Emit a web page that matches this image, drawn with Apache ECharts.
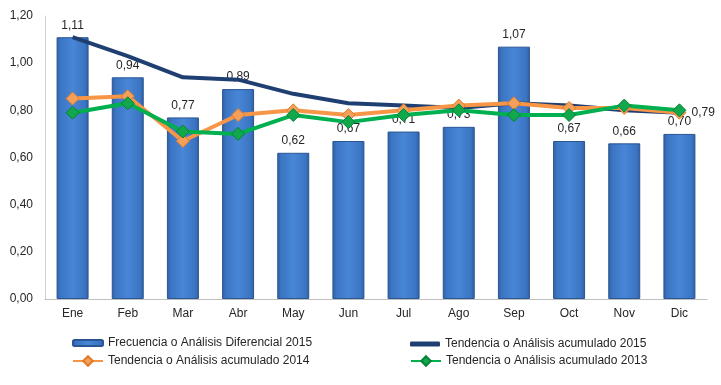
<!DOCTYPE html>
<html><head><meta charset="utf-8">
<script src="https://cdn.jsdelivr.net/npm/echarts@6/dist/echarts.min.js"></script>
<style>html,body{margin:0;padding:0;background:#fff}#c{width:721px;height:385px}</style>
</head><body><div id="c"></div>
<script>
const categories = ['Ene','Feb','Mar','Abr','May','Jun','Jul','Ago','Sep','Oct','Nov','Dic'];
const frecuencia2015 = [1.11,0.94,0.77,0.89,0.62,0.67,0.71,0.73,1.07,0.67,0.66,0.70];
const tendencia2015 = [1.11,1.03,0.94,0.93,0.87,0.83,0.82,0.81,0.83,0.82,0.80,0.79];
const tendencia2014 = [0.85,0.86,0.67,0.78,0.80,0.78,0.80,0.82,0.83,0.81,0.81,0.79];
const tendencia2013 = [0.79,0.83,0.71,0.70,0.78,0.75,0.78,0.80,0.78,0.78,0.82,0.80];
const yTicks = [0,0.2,0.4,0.6,0.8,1.0,1.2];
const names = ['Frecuencia o Análisis Diferencial 2015','Tendencia o Análisis acumulado 2015','Tendencia o Análisis acumulado 2014','Tendencia o Análisis acumulado 2013'];

const FONT = 'Liberation Sans';
const fmt = v => Number(v).toFixed(2).replace('.', ',');
const chart = echarts.init(document.getElementById('c'), null, {renderer:'canvas'});
const barGrad = new echarts.graphic.LinearGradient(0,0,1,0,[
  {offset:0,color:'#2f5e9f'},{offset:0.12,color:'#3b75c3'},{offset:0.5,color:'#4886d6'},{offset:0.88,color:'#3b75c3'},{offset:1,color:'#2f5e9f'}]);
const legendText = {fontFamily:FONT,fontSize:12,color:'#262626'};
function lg(name,left,top,w,h,icon){
  const o = {data:[name],left:left,top:top,itemWidth:w,itemHeight:h,itemGap:0,padding:0,textStyle:legendText,selectedMode:false};
  if (icon) o.icon = icon;
  return o;
}
chart.setOption({
  animation:false,
  textStyle:{fontFamily:FONT},
  grid:{left:45,right:14,top:16,bottom:86},
  legend:[
    lg(names[0],72,337,30,6),
    lg(names[1],410,338,30,5,'roundRect'),
    lg(names[2],72,355,30,12),
    lg(names[3],410,355,30,12)
  ],
  xAxis:{type:'category',data:categories,
    axisLine:{lineStyle:{color:'#bfbfbf',width:1}},axisTick:{show:false},
    axisLabel:{color:'#262626',fontSize:12,fontFamily:FONT,margin:9}},
  yAxis:{type:'value',min:0,max:1.2,interval:0.2,
    axisLine:{show:true,lineStyle:{color:'#d0d0d0'}},axisTick:{show:false},splitLine:{show:false},
    axisLabel:{color:'#262626',fontSize:12,fontFamily:FONT,margin:12,
      formatter:v=>fmt(yTicks.reduce((a,b)=>Math.abs(b-v)<Math.abs(a-v)?b:a))}},
  series:[
    {name:names[0],type:'bar',data:frecuencia2015,barWidth:'58%',
      itemStyle:{color:barGrad,borderColor:'#2a5694',borderWidth:1},
      label:{show:true,position:'top',distance:6,color:'#262626',fontSize:12,fontFamily:FONT,formatter:p=>fmt(p.value)}},
    {name:names[1],type:'line',data:tendencia2015.map((v,i)=>i===tendencia2015.length-1?{value:v,label:{show:true,position:'right',distance:12,color:'#262626',fontSize:12,fontFamily:FONT,formatter:p=>fmt(p.value)}}:v),
      symbol:'circle',symbolSize:0.1,showSymbol:true,
      lineStyle:{color:'#1f3f73',width:4},itemStyle:{color:'#1f3f73'}},
    {name:names[2],type:'line',data:tendencia2014,symbol:'diamond',symbolSize:13,
      lineStyle:{color:'#f79646',width:4},itemStyle:{color:'#f5a05a',borderColor:'#e07a2a',borderWidth:1}},
    {name:names[3],type:'line',data:tendencia2013,symbol:'diamond',symbolSize:13,
      lineStyle:{color:'#00b050',width:4},itemStyle:{color:'#10a84a',borderColor:'#07803a',borderWidth:1}}
  ]
});
</script></body></html>
